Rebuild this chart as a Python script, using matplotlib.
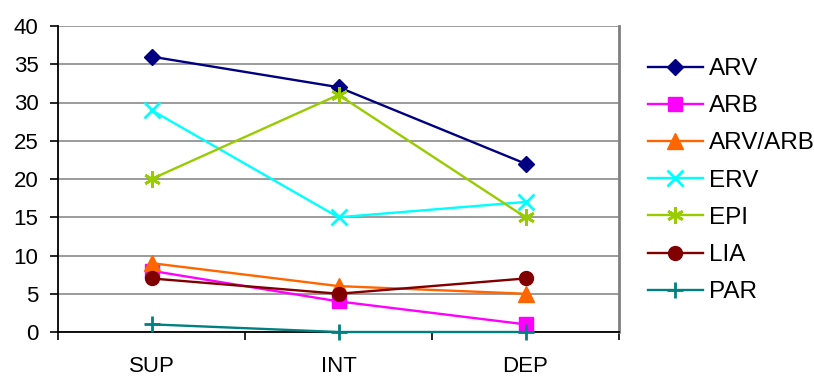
import numpy as np
import matplotlib.pyplot as plt

plt.rcParams['font.family'] = ['Liberation Sans', 'DejaVu Sans']

categories = ["SUP", "INT", "DEP"]
arv = [36, 32, 22]
arb = [8, 4, 1]
arv_arb = [9, 6, 5]
erv = [29, 15, 17]
epi = [20, 31, 15]
lia = [7, 5, 7]
par = [1, 0, 0]

# name, values, colour, marker, marker size
series = [
    ("ARV", arv, "#000080", "D", 8),
    ("ARB", arb, "#FF00FF", "s", 10),
    ("ARV/ARB", arv_arb, "#FF6600", "^", 12),
    ("ERV", erv, "#00FFFF", "x", 11),
    ("EPI", epi, "#99CC00", (6, 2, 0), 12),
    ("LIA", lia, "#800000", "o", 10),
    ("PAR", par, "#008080", "+", 11.5),
]

fig = plt.figure(figsize=(8.14, 3.76), dpi=100)
ax = fig.add_axes([58 / 814, 1 - 332 / 376, 561 / 814, 306 / 376])

x = np.arange(len(categories))
for name, vals, col, mk, ms in series:
    thin = mk in ("x", "+") or isinstance(mk, tuple)
    ax.plot(x, vals, color=col, lw=1.7, marker=mk, markersize=ms,
            markeredgewidth=2 if thin else 1,
            markerfacecolor=col, markeredgecolor=col, label=name, clip_on=False,
            zorder=3)

ax.set_xlim(-0.5, len(categories) - 0.5)
ax.set_ylim(0, 40)
ax.set_yticks(np.arange(0, 41, 5))
ax.yaxis.grid(True, color="#808080", lw=1.1)
ax.set_axisbelow(True)

ax.set_xticks(x)
ax.set_xticklabels(categories)
ax.set_xticks(np.arange(-0.5, len(categories)), minor=True)
ax.tick_params(axis="x", which="major", length=0, pad=17, labelsize=16)
ax.tick_params(axis="x", which="minor", length=6, width=1.2, direction="out")
ax.tick_params(axis="y", length=6, width=1.2, direction="out", labelsize=16, pad=8)

for s in ("left", "bottom"):
    ax.spines[s].set_color("black")
    ax.spines[s].set_linewidth(1.3)
ax.spines["top"].set_visible(False)
ax.spines["right"].set_color("#808080")
ax.spines["right"].set_linewidth(2)

fig.legend(loc="upper left", bbox_to_anchor=(648 / 814, 1 - 58 / 376),
           frameon=False, fontsize=17.5, handlelength=2.26, labelspacing=0.625,
           handletextpad=0.25, borderaxespad=0, borderpad=0)

fig.savefig("out.png", dpi=100)
